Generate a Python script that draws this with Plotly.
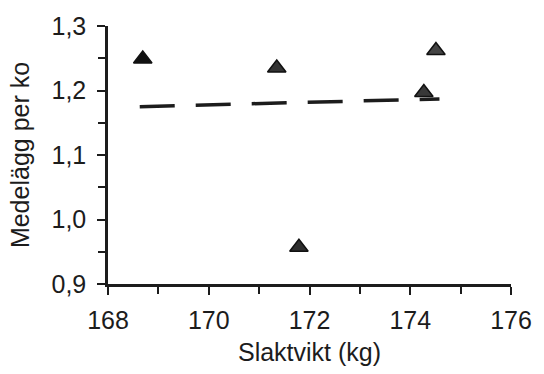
import plotly.graph_objects as go

# Slaughter weight (kg) vs. average eggs per cow
slaktvikt = [168.69, 171.35, 174.27, 174.51, 171.79]
medelagg = [1.249, 1.235, 1.197, 1.262, 0.957]
fill_colors = ["#111111", "#333333", "#383838", "#444444", "#2e2e2e"]

# Linear trend line endpoints
trend_x = [168.63, 174.58]
trend_y = [1.175, 1.187]

x_ticks = [168, 170, 172, 174, 176]
y_ticks = [0.9, 1.0, 1.1, 1.2, 1.3]

ink = "#1c1c1c"
font = "Liberation Sans, Arial, sans-serif"

fig = go.Figure()

fig.add_trace(go.Scatter(
    x=trend_x, y=trend_y, mode="lines",
    line=dict(color=ink, width=3.5, dash="35px,21px"),
    hoverinfo="skip", showlegend=False,
))

fig.add_trace(go.Scatter(
    x=slaktvikt, y=medelagg, mode="markers",
    marker=dict(symbol="triangle-up", size=16, color=fill_colors,
                line=dict(color="#111111", width=1.5)),
    showlegend=False,
))

axis_common = dict(
    showgrid=False, zeroline=False, showline=True,
    linecolor=ink, linewidth=2.5,
    ticks="outside", ticklen=8, tickwidth=2, tickcolor=ink,
    tickfont=dict(family=font, size=25, color=ink),
)

fig.update_xaxes(
    range=[168, 176], tickvals=x_ticks, ticklabelstandoff=4,
    minor=dict(dtick=1, ticks="outside", ticklen=7, tickwidth=2, tickcolor=ink),
    title=dict(text="Slaktvikt (kg)", font=dict(family=font, size=25, color=ink), standoff=11),
    **axis_common,
)
fig.update_yaxes(
    range=[0.9, 1.3], tickvals=y_ticks, tickformat=".1f", ticklabelstandoff=6,
    minor=dict(dtick=0.05, ticks="outside", ticklen=7, tickwidth=2, tickcolor=ink),
    title=dict(text="Medelägg per ko", font=dict(family=font, size=25, color=ink), standoff=15),
    **axis_common,
)

fig.update_layout(
    width=544, height=374,
    margin=dict(l=108, r=26, t=23, b=86),
    paper_bgcolor="white", plot_bgcolor="white",
    separators=", ",
    font=dict(family=font, color=ink),
)

fig.write_html("out.html")
